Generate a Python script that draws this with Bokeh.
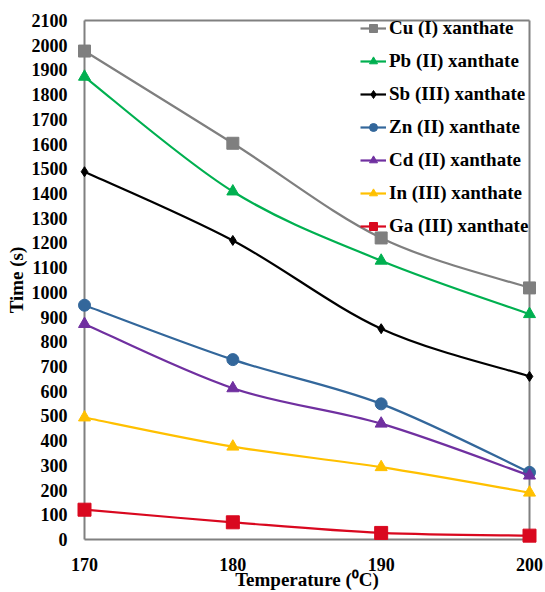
from bokeh.plotting import figure
from bokeh.models import Range1d, FixedTicker, Legend, LegendItem, ColumnDataSource
from bokeh.embed import file_html
from bokeh.resources import INLINE

# Decomposition time of metal xanthates vs. temperature
temperature = [170, 180, 190, 200]
cu = [1976, 1603, 1220, 1018]
pb = [1872, 1408, 1128, 912]
sb = [1488, 1210, 853, 660]
zn = [948, 728, 549, 272]
cd = [872, 612, 469, 259]
in_ = [494, 376, 293, 190]
ga = [121, 70, 27, 16]

y_ticks = list(range(0, 2101, 100))
x_ticks = [170, 180, 190, 200]

X_MIN, X_MAX = 170, 200
Y_MIN, Y_MAX = 0, 2100

series = [
    ("Cu (I) xanthate", cu, "#7f7f7f", "square", 12),
    ("Pb (II) xanthate", pb, "#00b050", "triangle", 12),
    ("Sb (III) xanthate", sb, "#000000", "diamond", 10),
    ("Zn (II) xanthate", zn, "#33679b", "circle", 12),
    ("Cd (II) xanthate", cd, "#7030a0", "triangle", 12),
    ("In (III) xanthate", in_, "#ffc000", "triangle", 12),
    ("Ga (III) xanthate", ga, "#d9081f", "square", 13),
]

FONT = "Liberation Serif"

# pad ranges by ~10px so edge markers are not clipped by the frame
x_pad = 10 / (445 / 30)
y_pad = 10 / (525 / 2100)

p = figure(
    width=545, height=592,
    x_range=Range1d(X_MIN - x_pad, X_MAX + x_pad),
    y_range=Range1d(Y_MIN - y_pad, Y_MAX + y_pad),
    output_backend="svg", toolbar_location=None,
    min_border_left=74, min_border_right=6, min_border_top=10, min_border_bottom=37,
)
p.outline_line_color = None
p.xgrid.visible = False
p.ygrid.visible = False
p.background_fill_color = "white"
p.border_fill_color = "white"

# plot-area frame
p.segment(x0=[X_MIN, X_MAX, X_MIN, X_MIN], y0=[Y_MIN, Y_MIN, Y_MIN, Y_MAX],
          x1=[X_MIN, X_MAX, X_MAX, X_MAX], y1=[Y_MAX, Y_MAX, Y_MIN, Y_MAX],
          line_color="#808080", line_width=2)


def smooth_controls(xs, ys):
    """Cubic Bezier control points for a smoothed line through the points."""
    n = len(xs)
    cx0, cy0, cx1, cy1 = [], [], [], []
    for i in range(n - 1):
        xp, yp = (xs[i - 1], ys[i - 1]) if i > 0 else (xs[i], ys[i])
        xn, yn = (xs[i + 2], ys[i + 2]) if i + 2 < n else (xs[i + 1], ys[i + 1])
        cx0.append(xs[i] + (xs[i + 1] - xp) / 6)
        cy0.append(ys[i] + (ys[i + 1] - yp) / 6)
        cx1.append(xs[i + 1] - (xn - xs[i]) / 6)
        cy1.append(ys[i + 1] - (yn - ys[i]) / 6)
    return dict(x0=xs[:-1], y0=ys[:-1], x1=xs[1:], y1=ys[1:],
                cx0=cx0, cy0=cy0, cx1=cx1, cy1=cy1)


items = []
for label, vals, color, marker, size in series:
    src = ColumnDataSource(smooth_controls(temperature, vals))
    curve = p.bezier(x0="x0", y0="y0", x1="x1", y1="y1", cx0="cx0", cy0="cy0",
                     cx1="cx1", cy1="cy1", source=src, line_color=color, line_width=2.2)
    pts = p.scatter(temperature, vals, marker=marker, size=size,
                    fill_color=color, line_color=color)
    items.append(LegendItem(label=label, renderers=[curve, pts]))

legend = Legend(items=items, location=(286, 312), orientation="vertical",
                label_text_font=FONT, label_text_font_style="bold",
                label_text_font_size="19px", label_text_color="#000000",
                label_standoff=3, label_height=20, glyph_height=20, glyph_width=26,
                spacing=11, padding=0, margin=0,
                border_line_color=None, background_fill_alpha=0)
p.add_layout(legend)

for ax in (p.xaxis[0], p.yaxis[0]):
    ax.axis_line_color = None
    ax.major_tick_line_color = None
    ax.minor_tick_line_color = None
    ax.major_tick_out = 0
    ax.major_tick_in = 0
    ax.major_label_text_font = FONT
    ax.major_label_text_font_style = "bold"
    ax.major_label_text_font_size = "18px"
    ax.major_label_text_color = "#000000"
    ax.axis_label_text_font = FONT
    ax.axis_label_text_font_style = "bold"
    ax.axis_label_text_font_size = "19px"
    ax.axis_label_text_color = "#000000"

p.xaxis.ticker = FixedTicker(ticks=x_ticks)
p.yaxis.ticker = FixedTicker(ticks=y_ticks)
p.xaxis.axis_label = "Temperature (\u2070C)"
p.yaxis.axis_label = "Time (s)"
p.xaxis.major_label_standoff = 8
p.xaxis.axis_label_standoff = -5
p.yaxis.major_label_standoff = 7
p.yaxis.axis_label_standoff = 2

open("out.html", "w").write(file_html(p, INLINE))
